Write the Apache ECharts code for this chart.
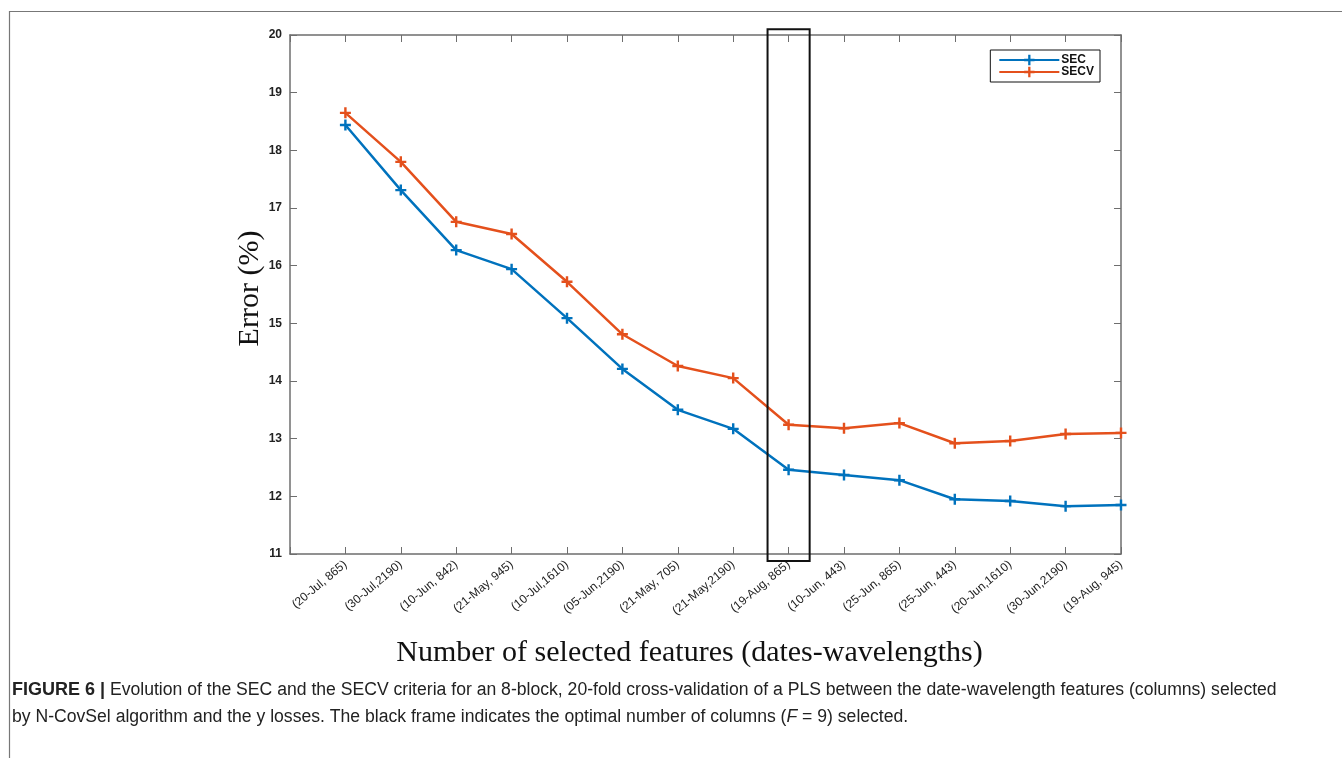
<!DOCTYPE html>
<html>
<head>
<meta charset="utf-8">
<script src="https://cdn.jsdelivr.net/npm/echarts@6/dist/echarts.min.js"></script>
<style>
  html, body { margin: 0; padding: 0; background: #fff; }
  #chart { width: 1342px; height: 758px; }
</style>
</head>
<body>
<div id="chart"></div>
<script>
// feature picked at each step (date, wavelength)
var features = ['(20-Jul, 865)', '(30-Jul,2190)', '(10-Jun, 842)', '(21-May, 945)', '(10-Jul,1610)',
  '(05-Jun,2190)', '(21-May, 705)', '(21-May,2190)', '(19-Aug, 865)', '(10-Jun, 443)',
  '(25-Jun, 865)', '(25-Jun, 443)', '(20-Jun,1610)', '(30-Jun,2190)', '(19-Aug, 945)'];
var secValues = [18.44, 17.31, 16.27, 15.94, 15.09, 14.21, 13.50, 13.17, 12.46, 12.37, 12.28, 11.95, 11.92, 11.83, 11.85];
var secvValues = [18.65, 17.80, 16.76, 16.55, 15.72, 14.81, 14.26, 14.05, 13.24, 13.18, 13.27, 12.92, 12.96, 13.08, 13.10];
var yTicks = [11, 12, 13, 14, 15, 16, 17, 18, 19, 20];
var optimalF = 9;

var chart = echarts.init(document.getElementById('chart'));

var plus = 'path://M-1.1,-5 L1.1,-5 L1.1,-1.1 L5,-1.1 L5,1.1 L1.1,1.1 L1.1,5 L-1.1,5 L-1.1,1.1 L-5,1.1 L-5,-1.1 L-1.1,-1.1 Z';
var axisCol = '#6e6e6e';

function pairs(vals) {
  return vals.map(function (v, i) { return [i + 1, v]; });
}

var option = {
  animation: false,
  backgroundColor: '#fff',
  grid: { left: 290, top: 35, width: 831, height: 519, outerBoundsMode: 'none' },
  legend: {
    orient: 'vertical',
    right: 242,
    top: 50,
    itemGap: 0,
    itemWidth: 60,
    itemHeight: 13,
    padding: [4, 6, 4, 8],
    borderColor: '#111',
    borderWidth: 1,
    backgroundColor: '#fff',
    textStyle: { fontFamily: 'Liberation Sans', fontWeight: 'bold', fontSize: 12, color: '#111', padding: [0, 0, 0, -3] },
    data: ['SEC', 'SECV']
  },
  xAxis: [{
    type: 'value',
    min: 0, max: 15, interval: 1,
    name: 'Number of selected features (dates-wavelengths)',
    nameLocation: 'middle',
    nameGap: 84,
    nameTextStyle: { fontFamily: 'Liberation Serif', fontSize: 30, color: '#111', padding: [0, 32, 0, 0] },
    axisLine: { show: true, onZero: false, lineStyle: { color: axisCol, width: 1.5 } },
    axisTick: { show: true, inside: true, length: 7, lineStyle: { color: axisCol } },
    splitLine: { show: false },
    axisLabel: {
      rotate: 40,
      margin: 9,
      fontFamily: 'Liberation Sans',
      fontSize: 12,
      color: '#222',
      formatter: function (v) { return features[v - 1] || ''; }
    }
  }, {
    type: 'value',
    position: 'top',
    min: 0, max: 15, interval: 1,
    axisLine: { show: true, onZero: false, lineStyle: { color: axisCol, width: 1.5 } },
    axisTick: { show: true, inside: true, length: 7, lineStyle: { color: axisCol } },
    splitLine: { show: false },
    axisLabel: { show: false }
  }],
  yAxis: [{
    type: 'value',
    min: yTicks[0], max: yTicks[yTicks.length - 1], interval: 1,
    name: 'Error (%)',
    nameLocation: 'middle',
    nameGap: 25,
    nameMoveOverlap: false,
    nameTextStyle: { fontFamily: 'Liberation Serif', fontSize: 30, color: '#111', padding: [0, 0, 0, 12] },
    axisLine: { show: true, onZero: false, lineStyle: { color: axisCol, width: 1.5 } },
    axisTick: { show: true, inside: true, length: 7, lineStyle: { color: axisCol } },
    splitLine: { show: false },
    axisLabel: { margin: 8, fontFamily: 'Liberation Sans', fontWeight: 'bold', fontSize: 12, color: '#222' }
  }, {
    type: 'value',
    position: 'right',
    min: yTicks[0], max: yTicks[yTicks.length - 1], interval: 1,
    axisLine: { show: true, onZero: false, lineStyle: { color: axisCol, width: 1.5 } },
    axisTick: { show: true, inside: true, length: 7, lineStyle: { color: axisCol } },
    splitLine: { show: false },
    axisLabel: { show: false }
  }],
  series: [{
    name: 'SEC',
    type: 'line',
    data: pairs(secValues),
    symbol: plus,
    symbolSize: 11,
    color: '#0072BD',
    lineStyle: { width: 2.5, color: '#0072BD' },
    itemStyle: { color: '#0072BD' }
  }, {
    name: 'SECV',
    type: 'line',
    data: pairs(secvValues),
    symbol: plus,
    symbolSize: 11,
    color: '#E4501C',
    lineStyle: { width: 2.5, color: '#E4501C' },
    itemStyle: { color: '#E4501C' }
  }]
};
chart.setOption(option);

// black frame round the optimal F, and the outer figure border + caption
var p1 = chart.convertToPixel({ xAxisIndex: 0, yAxisIndex: 0 }, [optimalF - 0.38, 20.1]);
var p2 = chart.convertToPixel({ xAxisIndex: 0, yAxisIndex: 0 }, [optimalF + 0.38, 10.88]);

chart.setOption({
  graphic: [{
    type: 'rect',
    shape: { x: p1[0], y: p1[1], width: p2[0] - p1[0], height: p2[1] - p1[1] },
    style: { fill: 'none', stroke: '#111', lineWidth: 2 },
    z: 10
  }, {
    type: 'polyline',
    shape: { points: [[9.5, 758], [9.5, 11.5], [1342, 11.5]] },
    style: { fill: 'none', stroke: '#777', lineWidth: 1.2 }
  }, {
    type: 'text',
    left: 12,
    top: 677,
    style: {
      text: '{b|FIGURE 6 |} Evolution of the SEC and the SECV criteria for an 8-block, 20-fold cross-validation of a PLS between the date-wavelength features (columns) selected\nby N-CovSel algorithm and the y losses. The black frame indicates the optimal number of columns ({i|F} = 9) selected.',
      fontFamily: 'Liberation Sans',
      fontSize: 17.6,
      lineHeight: 27,
      fill: '#222',
      rich: {
        b: { fontWeight: 'bold', fontFamily: 'Liberation Sans', fontSize: 18, fill: '#222' },
        i: { fontStyle: 'italic', fontFamily: 'Liberation Sans', fontSize: 17.6, fill: '#222' }
      }
    }
  }]
});
</script>
</body>
</html>
